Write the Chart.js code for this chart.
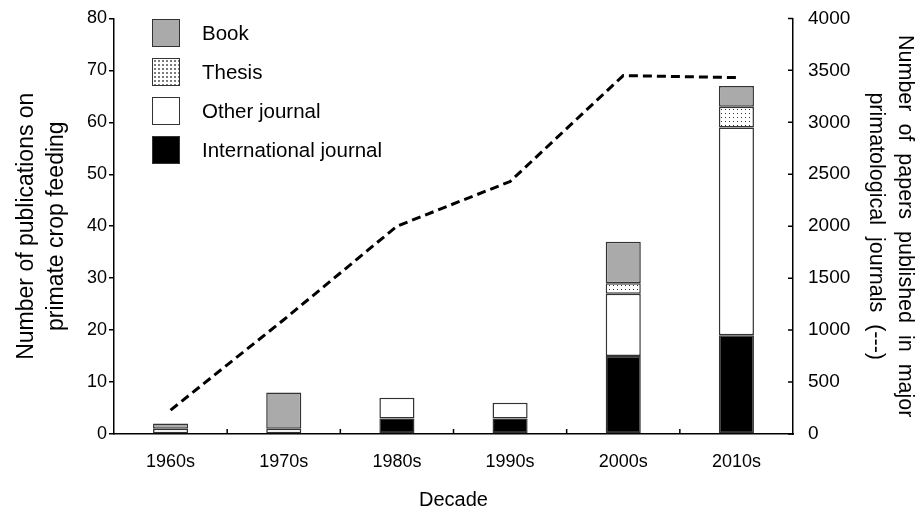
<!DOCTYPE html>
<html>
<head>
<meta charset="utf-8">
<script src="https://cdn.jsdelivr.net/npm/chart.js@4"></script>
<style>
  html, body { margin: 0; padding: 0; background: #fff; }
  #wrap { position: relative; width: 919px; height: 514px; }
  #legend { position: absolute; left: 152px; top: 19px; font-family: "Liberation Sans", Arial, sans-serif; font-size: 20.5px; color: #000; }
  #legend div { display: flex; align-items: center; height: 28px; margin-bottom: 11px; }
  #legend span.sw { width: 26px; height: 26px; border: 1.5px solid #333; margin-right: 22px; box-sizing: content-box; }
</style>
</head>
<body>
<div id="wrap">
  <canvas id="chart" width="919" height="514"></canvas>
  <div id="legend"></div>
</div>
<script>
const decades = ['1960s', '1970s', '1980s', '1990s', '2000s', '2010s'];
const intlJournal = [0, 0, 3, 3, 15, 19];
const otherJournal = [1, 1, 4, 3, 12, 40];
const thesis = [0, 0, 0, 0, 2, 4];
const book = [1, 7, 0, 0, 8, 4];
const primatologyPapers = [230, 1100, 2000, 2430, 3450, 3430];

const leftTicks = [0, 10, 20, 30, 40, 50, 60, 70, 80];
const rightTicks = [0, 500, 1000, 1500, 2000, 2500, 3000, 3500, 4000];

const font = "'Liberation Sans', Arial, sans-serif";

// empty segments are left out so no zero-height outline is drawn
const skipZero = (arr) => arr.map((v) => (v === 0 ? null : v));

// dotted fill for thesis
function dotPattern() {
  const c = document.createElement('canvas');
  c.width = 4; c.height = 4;
  const g = c.getContext('2d');
  g.fillStyle = '#fff';
  g.fillRect(0, 0, 4, 4);
  g.fillStyle = '#333';
  g.fillRect(1, 1, 1, 1);
  return g.createPattern(c, 'repeat');
}
const thesisFill = dotPattern();

// small inward ticks on x axis and right axis
const inTicks = {
  id: 'inTicks',
  afterDraw(chart) {
    const { ctx, scales: { x, y1 } } = chart;
    ctx.save();
    ctx.strokeStyle = '#000';
    ctx.lineWidth = 1.5;
    ctx.beginPath();
    for (let i = 1; i < decades.length; i++) {
      const px = (x.getPixelForValue(i - 1) + x.getPixelForValue(i)) / 2;
      ctx.moveTo(px, x.top);
      ctx.lineTo(px, x.top - 5);
    }
    rightTicks.forEach((v) => {
      const py = y1.getPixelForValue(v);
      ctx.moveTo(y1.left, py);
      ctx.lineTo(y1.left - 5, py);
    });
    ctx.stroke();
    ctx.restore();
  },
};

const barBase = { yAxisID: 'y', borderColor: '#333', borderWidth: 1.5, barPercentage: 0.31, categoryPercentage: 1, order: 2, borderSkipped: false };

new Chart(document.getElementById('chart'), {
  type: 'bar',
  data: {
    labels: decades,
    datasets: [
      { type: 'line', label: 'Papers', data: primatologyPapers, yAxisID: 'y1', borderColor: '#000', borderWidth: 3, borderDash: [9, 5], pointRadius: 0, fill: false, tension: 0, order: 1 },
      { ...barBase, label: 'International journal', data: skipZero(intlJournal), backgroundColor: '#000' },
      { ...barBase, label: 'Other journal', data: skipZero(otherJournal), backgroundColor: '#fff' },
      { ...barBase, label: 'Thesis', data: skipZero(thesis), backgroundColor: thesisFill },
      { ...barBase, label: 'Book', data: skipZero(book), backgroundColor: '#aaaaaa' },
    ],
  },
  options: {
    responsive: false,
    animation: false,
    layout: { padding: { top: 8, left: 8, right: 0, bottom: 0 } },
    plugins: { legend: { display: false }, tooltip: { enabled: false } },
    scales: {
      x: {
        stacked: true,
        grid: { display: false },
        border: { display: true, color: '#000', width: 1.5 },
        ticks: { color: '#000', font: { family: font, size: 18 }, padding: 9 },
        title: { display: true, text: 'Decade', color: '#000', font: { family: font, size: 20 }, padding: { top: 21, bottom: 2 } },
        afterFit: (s) => { s.height = 80; },
      },
      y: {
        stacked: true,
        position: 'left',
        min: 0,
        max: 80,
        afterBuildTicks: (s) => { s.ticks = leftTicks.map((v) => ({ value: v })); },
        grid: { drawOnChartArea: false, drawTicks: true, tickLength: 5, color: '#000', lineWidth: 1.5 },
        border: { display: true, color: '#000', width: 1.5 },
        ticks: { color: '#000', font: { family: font, size: 18 }, padding: 2 },
        title: { display: true, text: ['Number of publications on', 'primate crop feeding'], color: '#000', font: { family: font, size: 23, lineHeight: 1.3 }, padding: { bottom: 6 } },
        afterFit: (s) => { s.width = 106; },
      },
      y1: {
        position: 'right',
        min: 0,
        max: 4000,
        afterBuildTicks: (s) => { s.ticks = rightTicks.map((v) => ({ value: v })); },
        grid: { display: false },
        border: { display: true, color: '#000', width: 1.5 },
        ticks: { color: '#000', font: { family: font, size: 19 }, padding: 7, callback: (v) => String(v) },
        title: { display: true, text: ['Number  of  papers  published  in  major', 'primatological  journals  (---)'], color: '#000', font: { family: font, size: 21.5, lineHeight: 1.35 }, padding: { top: 0 } },
        afterFit: (s) => { s.width = 126; },
      },
    },
  },
  plugins: [inTicks],
});

// legend (top to bottom: Book, Thesis, Other journal, International journal)
const legendItems = [
  { label: 'Book', swatch: '#aaaaaa' },
  { label: 'Thesis', swatch: 'radial-gradient(circle, #333 0.6px, transparent 0.9px) 0 0 / 4px 4px, #fff' },
  { label: 'Other journal', swatch: '#fff' },
  { label: 'International journal', swatch: '#000' },
];
const legendEl = document.getElementById('legend');
legendItems.forEach((it) => {
  const row = document.createElement('div');
  const sw = document.createElement('span');
  sw.className = 'sw';
  sw.style.background = it.swatch;
  const tx = document.createElement('span');
  tx.textContent = it.label;
  row.appendChild(sw);
  row.appendChild(tx);
  legendEl.appendChild(row);
});
</script>
</body>
</html>
